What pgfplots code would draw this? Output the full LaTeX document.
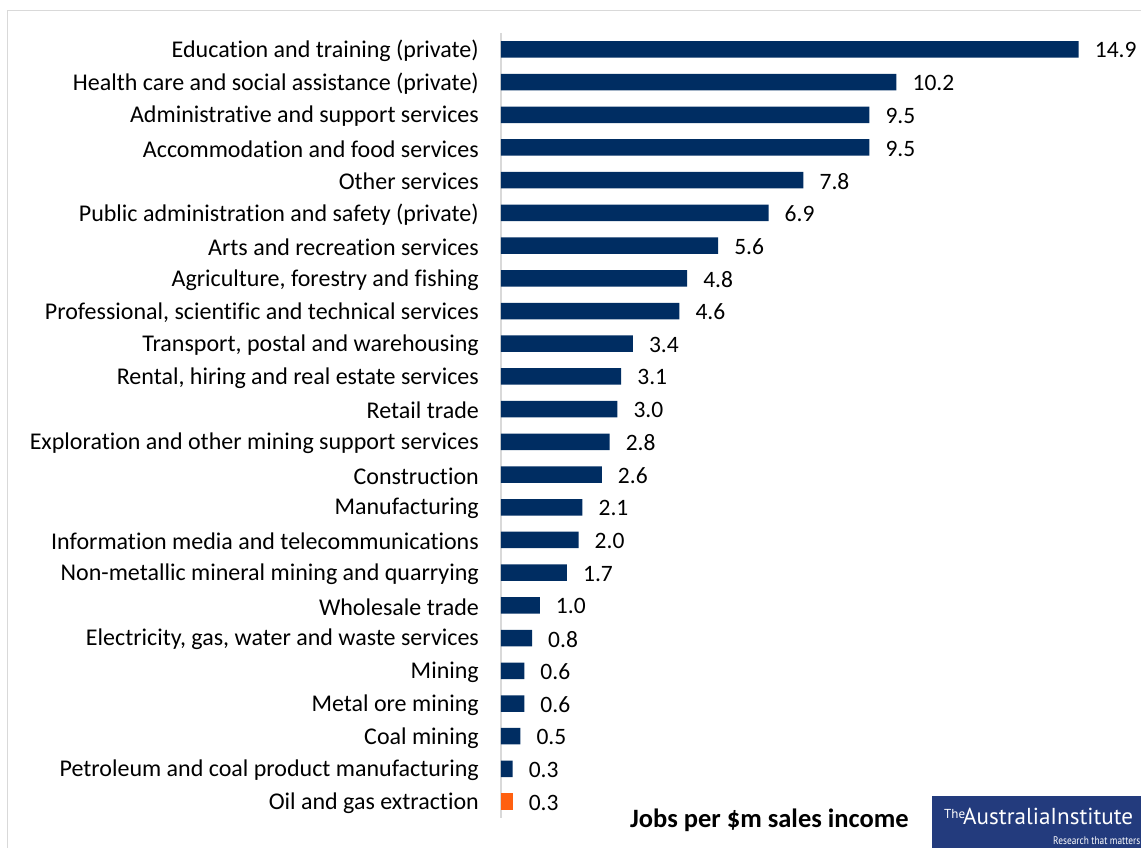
\documentclass[border=0pt]{standalone}
\usepackage{fontspec}
\setmainfont{Carlito}[Ligatures=NoCommon]
\newfontfamily\logofont{PT Sans}
\usepackage{graphicx}
\usepackage{pgfplots}
\pgfplotsset{compat=1.18}

\definecolor{barnavy}{HTML}{002D62}
\definecolor{barorange}{HTML}{FF6010}
\definecolor{axisgray}{HTML}{D9D9D9}
\definecolor{framegray}{HTML}{D9D9D9}
\definecolor{logoblue}{HTML}{233B7D}

\newcommand{\catfont}{\fontsize{24}{28}\selectfont}
\newcommand{\valfont}{\fontsize{23.5}{28}\selectfont}

\begin{document}
\begin{tikzpicture}[x=1pt,y=1pt]
\path[use as bounding box] (0,0) rectangle (1141,848);
% outer frame
\draw[framegray, line width=1pt] (7,-2) -- (7,837) -- (1143,837);

\begin{axis}[
  at={(501pt,30pt)}, anchor=south west,
  scale only axis, width=620.3pt, height=785pt,
  xmin=0, xmax=16, ymin=-0.5, ymax=23.5, y dir=reverse,
  axis x line=none, axis y line*=left,
  y axis line style={draw=axisgray, line width=2pt, -},
  ytick={0,...,23},
  yticklabels={
    Education and training (private),
    Health care and social assistance (private),
    Administrative and support services,
    Accommodation and food services,
    Other services,
    Public administration and safety (private),
    Arts and recreation services,
    {Agriculture, forestry and fishing},
    {Professional, scientific and technical services},
    {Transport, postal and warehousing},
    {Rental, hiring and real estate services},
    Retail trade,
    Exploration and other mining support services,
    Construction,
    Manufacturing,
    Information media and telecommunications,
    Non-metallic mineral mining and quarrying,
    Wholesale trade,
    {Electricity, gas, water and waste services},
    Mining,
    Metal ore mining,
    Coal mining,
    Petroleum and coal product manufacturing,
    Oil and gas extraction},
  major tick length=0pt,
  yticklabel style={font=\catfont, text=black, inner sep=0pt, xshift=-22pt, yshift=-1.5pt},
  xbar, bar width=16.5pt, bar shift=0pt,
  nodes near coords={\pgfmathprintnumber[fixed,fixed zerofill,precision=1,assume math mode=true]{\pgfplotspointmeta}},
  nodes near coords style={font=\valfont, text=black, anchor=west, inner sep=0pt, xshift=16pt, yshift=-1pt},
  clip=false,
]
\addplot[fill=barnavy, draw=none] coordinates {
  (14.9,0) (10.2,1) (9.5,2) (9.5,3) (7.8,4) (6.9,5) (5.6,6) (4.8,7)
  (4.6,8) (3.4,9) (3.1,10) (3.0,11) (2.8,12) (2.6,13) (2.1,14) (2.0,15)
  (1.7,16) (1.0,17) (0.8,18) (0.6,19) (0.6,20) (0.5,21) (0.3,22)
};
\addplot[fill=barorange, draw=none] coordinates {(0.3,23)};
\end{axis}

% caption
\node[anchor=base west, inner sep=0pt] at (630,20.5)
  {\fontsize{26.5}{30}\selectfont\bfseries Jobs per \$m sales income};

% logo
\fill[logoblue] (932,0) rectangle (1143,52);
\node[anchor=base west, inner sep=0pt, text=white] at (944,29.5)
  {\logofont\fontsize{13}{13}\selectfont The};
\node[anchor=base west, inner sep=0pt, text=white] at (963,23.5)
  {\logofont\resizebox{170pt}{!}{\fontsize{22}{22}\selectfont AustraliaInstitute}};
\node[anchor=base west, inner sep=0pt, text=white] at (1053,3)
  {\logofont\scalebox{0.85}[1]{\fontsize{11}{11}\selectfont Research that matters}};
\end{tikzpicture}
\end{document}
